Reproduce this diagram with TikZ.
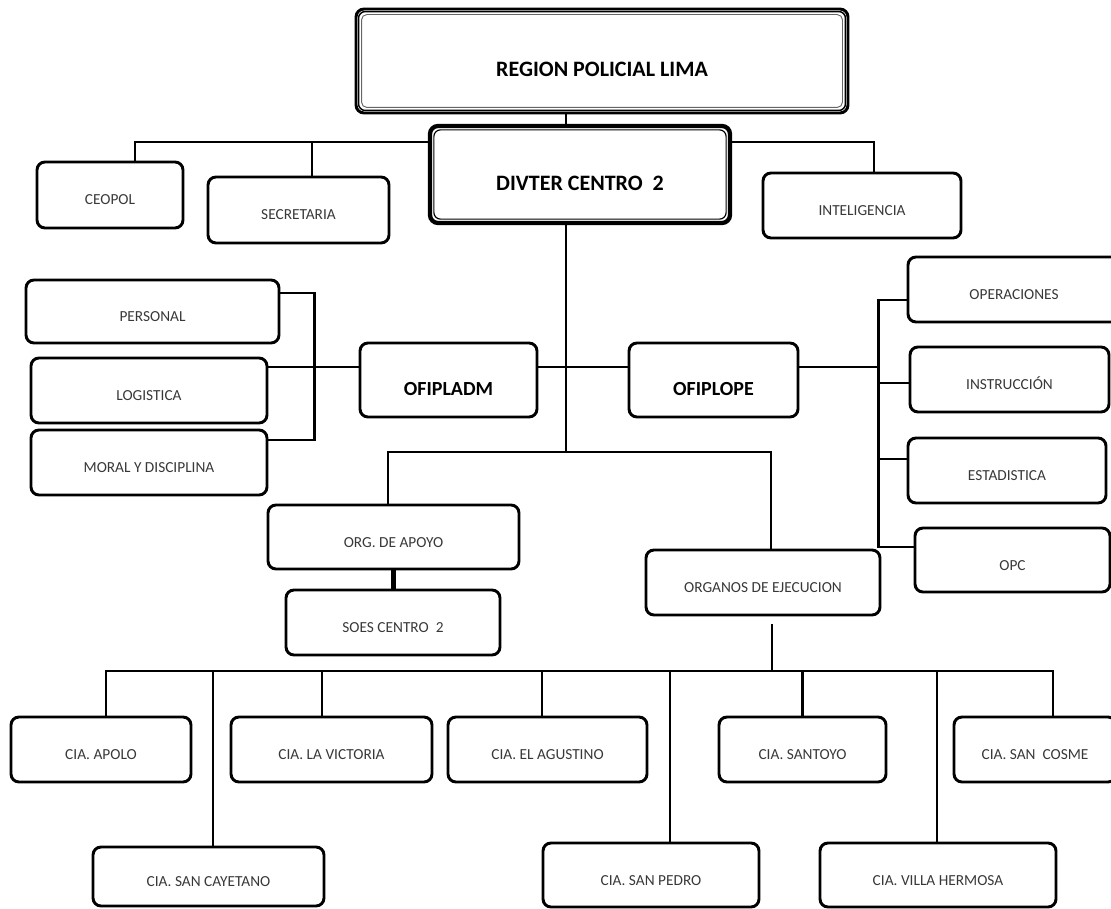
\documentclass[tikz,border=0pt]{standalone}
\usepackage{fontspec}
\setmainfont{Carlito}
\usetikzlibrary{calc}

\tikzset{
  box/.style={draw, line width=2.2pt, rounded corners=6pt, inner sep=0pt,
    font=\fontsize{11.5}{13}\selectfont, text=black!78, text height=15pt, text depth=0pt},
  bigbox/.style={box, font=\fontsize{16.5}{19}\selectfont\bfseries, text=black, text height=24pt},
  midbox/.style={box, font=\fontsize{15}{18}\selectfont\bfseries, text=black, text height=24pt},
  sz/.style 2 args={minimum width=#1*0.75pt, minimum height=#2*0.75pt},
  conn/.style={line width=2pt},
}

\begin{document}
\begin{tikzpicture}[x=0.75pt, y=-0.75pt]
	\useasboundingbox (0,0) rectangle (1111,909);

	% mando
	\node[bigbox, sz={492}{104}] (reg) at (602,61) {REGION POLICIAL LIMA};
	\node[bigbox, sz={300}{97}, line width=3.2pt] (divter) at (580,174.5) {DIVTER CENTRO\ \ 2};
	\draw[line width=1.1pt, rounded corners=5pt] ($(reg.north west)+(4,4)$) rectangle ($(reg.south east)+(-4,-4)$);
	\draw[line width=0.7pt, black!60, rounded corners=4pt] ($(reg.north west)+(7,7)$) rectangle ($(reg.south east)+(-7,-7)$);
	\draw[line width=0.9pt, rounded corners=5pt] ($(divter.north west)+(6,6)$) rectangle ($(divter.south east)+(-6,-6)$);

	% staff
	\node[box, sz={146}{66}] (ceopol) at (110,195) {CEOPOL};
	\node[box, sz={181}{66}] (secre) at (298.5,210) {SECRETARIA};
	\node[box, sz={198}{65}] (intel) at (862,205.5) {INTELIGENCIA};

	% oficinas
	\node[box, sz={253}{63}] (personal) at (152.5,311.5) {PERSONAL};
	\node[box, sz={236}{65}] (logist) at (149,390.5) {LOGISTICA};
	\node[box, sz={236}{65}] (moral) at (149,462.5) {MORAL Y DISCIPLINA};
	\node[midbox, sz={177}{74}] (ofipladm) at (448.5,380) {OFIPLADM};
	\node[midbox, sz={169}{74}] (ofiplope) at (713.5,380) {OFIPLOPE};
	\node[box, sz={212}{65}] (oper) at (1014,289.5) {OPERACIONES};
	\node[box, sz={199}{65}] (instr) at (1009.5,379.5) {INSTRUCCIÓN};
	\node[box, sz={198}{65}] (estad) at (1007,470.5) {ESTADISTICA};
	\node[box, sz={195}{64}] (opc) at (1012.5,560) {OPC};

	% organos
	\node[box, sz={251}{64}] (orgap) at (393.5,537) {ORG. DE APOYO};
	\node[box, sz={214}{65}] (soes) at (393,622.5) {SOES CENTRO\ \ 2};
	\node[box, sz={234}{65}] (organos) at (763,582.5) {ORGANOS DE EJECUCION};

	% comisarias
	\node[box, sz={180}{65}] (apolo) at (101,749.5) {CIA. APOLO};
	\node[box, sz={201}{65}] (vict) at (331.5,749.5) {CIA. LA VICTORIA};
	\node[box, sz={199}{65}] (agust) at (547.5,749.5) {CIA. EL AGUSTINO};
	\node[box, sz={167}{65}] (santoyo) at (802.5,749.5) {CIA. SANTOYO};
	\node[box, sz={162}{65}] (cosme) at (1035,749.5) {CIA. SAN\ \ COSME};
	\node[box, sz={231}{59}] (cayet) at (208.5,876.5) {CIA. SAN CAYETANO};
	\node[box, sz={216}{64}] (pedro) at (651,875) {CIA. SAN PEDRO};
	\node[box, sz={236}{64}] (villa) at (938,875) {CIA. VILLA HERMOSA};

	\coordinate (tbus) at (0,142);
	\coordinate (hbus) at (0,367);
	\coordinate (mbus) at (566,452);
	\coordinate (rbr) at (880,0);
	\coordinate (bbus) at (772,671);

	% lineas
	\draw[conn] (reg.south -| mbus) -- (divter.north -| mbus);
	\draw[conn] (divter.south -| mbus) -- (mbus);
	\draw[conn] ($(ceopol.north)+(25,0)$) |- (divter.west |- tbus);
	\draw[conn] ($(secre.north)+(13.5,0)$) coordinate (tmp) -- (tmp |- tbus);
	\draw[conn] (divter.east |- tbus) -| ($(intel.north)+(12,0)$);

	\draw[conn] ($(personal.east)+(0,-18.5)$) -| ($(moral.east)+(46,-22.5)$) -- ($(moral.east)+(0,-22.5)$);
	\draw[conn] (logist.east |- hbus) -- (ofipladm.west |- hbus);
	\draw[conn] (ofipladm.east |- hbus) -- (ofiplope.west |- hbus);
	\draw[conn] (ofiplope.east |- hbus) -- (rbr |- hbus);

	\draw[conn] ($(oper.west)+(0,10.5)$) -| ($(opc.west)+(-35,-13)$) -- ($(opc.west)+(0,-13)$);
	\draw[conn] ($(instr.west)+(0,3.5)$) coordinate (tmp) -- (tmp -| rbr);
	\draw[conn] ($(estad.west)+(0,-11.5)$) coordinate (tmp) -- (tmp -| rbr);

	\draw[conn] ($(orgap.north)+(-5.5,0)$) |- (mbus) -| ($(organos.north)+(8,0)$);
	\draw[conn, line width=3.2pt] (orgap.south) -- (orgap.south |- soes.north);

	\draw[conn] ($(organos.south)+(9,8)$) -- (bbus);
	\draw[conn] ($(apolo.north)+(5,0)$) |- (bbus) -| ($(cosme.north)+(18,0)$);
	\foreach \b/\dx in {cayet/4.5, vict/-9.5, agust/-5.5, pedro/19, santoyo/0, villa/-1}
		\draw[conn] ($(\b.north)+(\dx,0)$) coordinate (tmp) -- (tmp |- bbus);
\end{tikzpicture}
\end{document}
